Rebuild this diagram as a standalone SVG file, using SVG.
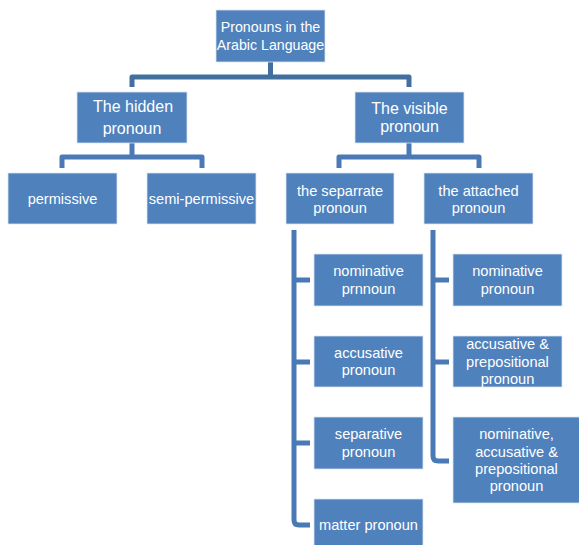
<svg xmlns="http://www.w3.org/2000/svg" width="579" height="545" viewBox="0 0 579 545">
<style>
.box{fill:#4F81BD;stroke:#dbe5f1;stroke-width:0.8}
.t{font-family:"Liberation Sans",Arial,sans-serif;font-size:14.6px;fill:#fff;text-anchor:middle}
.t0{font-family:"Liberation Sans",Arial,sans-serif;font-size:14.2px;fill:#fff;text-anchor:middle}
.t2{font-family:"Liberation Sans",Arial,sans-serif;font-size:16px;fill:#fff;text-anchor:middle}
.c{fill:none;stroke:#4A7AB6;stroke-width:5;stroke-linejoin:round;stroke-linecap:butt}
.cd{stroke:#41709F}
</style>
<rect width="579" height="545" fill="#fff"/>
<g id="connectors">
<path class="c cd" d="M270.5 62 V77 M132 87 V77 H409 V87"/>
<path class="c" d="M132 143 V157 M62 168 V157 H202 V168"/>
<path class="c" d="M409 143 V157 M339 168 V157 H479 V168"/>
<path class="c" d="M294 230 V520 Q294 525 299 525 H310 M294 280 H310 M294 362 H310 M294 443 H310"/>
<path class="c" d="M433 230 V456 Q433 461 438 461 H449 M433 280 H449 M433 362 H449"/>
</g>
<g id="root"><rect class="box" x="216" y="10" width="109" height="52"/><text class="t0" x="270.5" y="32">Pronouns in the</text><text class="t0" x="270.5" y="50">Arabic Language</text></g>
<g id="hidden"><rect class="box" x="77" y="92" width="110" height="51"/><text class="t2" x="133" y="112">The hidden</text><text class="t2" x="132" y="134">pronoun</text></g>
<g id="visible"><rect class="box" x="355" y="92" width="109" height="51"/><text class="t2" x="409.5" y="114">The visible</text><text class="t2" x="409.5" y="132">pronoun</text></g>
<g id="permissive"><rect class="box" x="8" y="173" width="109" height="51"/><text class="t" x="62.5" y="204">permissive</text></g>
<g id="semi-permissive"><rect class="box" x="147" y="173" width="109" height="51"/><text class="t" x="201.5" y="204">semi-permissive</text></g>
<g id="separrate"><rect class="box" x="286" y="173" width="108" height="51"/><text class="t" x="340" y="196">the separrate</text><text class="t" x="340" y="213">pronoun</text></g>
<g id="attached"><rect class="box" x="424" y="173" width="109" height="51"/><text class="t" x="478.5" y="196">the attached</text><text class="t" x="478.5" y="213">pronoun</text></g>
<g id="nominative-prnnoun"><rect class="box" x="314" y="254" width="109" height="52"/><text class="t" x="368.5" y="276">nominative</text><text class="t" x="368.5" y="294">prnnoun</text></g>
<g id="accusative-pronoun"><rect class="box" x="314" y="336" width="109" height="51"/><text class="t" x="368.5" y="358">accusative</text><text class="t" x="368.5" y="375">pronoun</text></g>
<g id="separative-pronoun"><rect class="box" x="314" y="417" width="109" height="52"/><text class="t" x="368.5" y="439">separative</text><text class="t" x="368.5" y="457">pronoun</text></g>
<g id="matter-pronoun"><rect class="box" x="314" y="499" width="109" height="52"/><text class="t" x="368.5" y="530">matter pronoun</text></g>
<g id="nominative-pronoun"><rect class="box" x="453" y="254" width="109" height="52"/><text class="t" x="507.5" y="276">nominative</text><text class="t" x="507.5" y="294">pronoun</text></g>
<g id="acc-prep"><rect class="box" x="453" y="336" width="109" height="51"/><text class="t" x="507.5" y="349">accusative &amp;</text><text class="t" x="507.5" y="367">prepositional</text><text class="t" x="507.5" y="384">pronoun</text></g>
<g id="nom-acc-prep"><rect class="box" x="453" y="417" width="127" height="86"/><text class="t" x="516.5" y="439">nominative,</text><text class="t" x="516.5" y="457">accusative &amp;</text><text class="t" x="516.5" y="474">prepositional</text><text class="t" x="516.5" y="491">pronoun</text></g>
</svg>
